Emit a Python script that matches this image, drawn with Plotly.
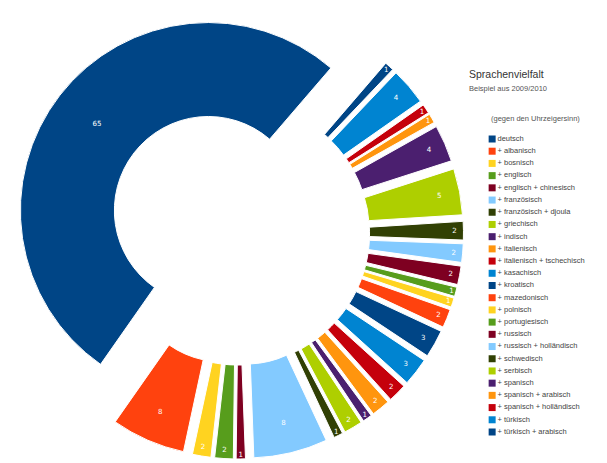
import plotly.graph_objects as go

# ---- data ----
labels = [
    "deutsch", "+ albanisch", "+ bosnisch", "+ englisch", "+ englisch + chinesisch",
    "+ französisch", "+ französisch + djoula", "+ griechisch", "+ indisch", "+ italienisch",
    "+ italienisch + tschechisch", "+ kasachisch", "+ kroatisch", "+ mazedonisch", "+ polnisch",
    "+ portugiesisch", "+ russisch", "+ russisch + holländisch", "+ schwedisch", "+ serbisch",
    "+ spanisch", "+ spanisch + arabisch", "+ spanisch + holländisch", "+ türkisch",
    "+ türkisch + arabisch",
]
values = [65, 8, 2, 2, 1, 8, 1, 2, 1, 2, 2, 3, 3, 2, 1, 1, 2, 2, 2, 5, 4, 1, 1, 4, 1]

palette = ["#004586", "#ff420e", "#ffd320", "#579d1c", "#7e0021", "#83caff",
           "#314004", "#aecf00", "#4b1f6f", "#ff950e", "#c5000b", "#0084d1"]
colors = [palette[i % len(palette)] for i in range(len(labels))]

W, H = 607, 463
OFF = 8  # page body margin offset

def px(x):
    return (x - OFF) / W

def py(y):
    return 1 - (y - OFF) / H

fig = go.Figure()

fig.add_trace(go.Pie(
    labels=labels,
    values=values,
    sort=False,
    direction="counterclockwise",
    rotation=215,
    hole=0.5,
    pull=[0.2] * len(values),
    marker=dict(colors=colors, line=dict(color="white", width=1)),
    textinfo="value",
    textposition="inside",
    insidetextorientation="horizontal",
    insidetextfont=dict(color="white", size=8, family="DejaVu Sans"),
    domain=dict(x=[0, 460 / W], y=[1 - 451 / H, 1]),
    showlegend=False,
    hoverinfo="label+value",
))

# legend drawn as a scatter on a hidden axis
idx = list(range(len(labels)))
fig.add_trace(go.Scatter(
    x=[0] * len(labels),
    y=idx,
    mode="markers+text",
    marker=dict(symbol="square", size=7, color=colors),
    text=labels,
    textposition="middle right",
    textfont=dict(size=7.5, color="#444444", family="Liberation Sans"),
    xaxis="x", yaxis="y",
    showlegend=False,
    hoverinfo="skip",
    cliponaxis=False,
))

fig.update_layout(
    width=W, height=H,
    margin=dict(l=0, r=0, t=0, b=0),
    paper_bgcolor="white",
    plot_bgcolor="white",
    showlegend=False,
    uniformtext=dict(minsize=7, mode="show"),
    xaxis=dict(domain=[px(486), 1.0], range=[-0.5, 10], visible=False, fixedrange=True),
    yaxis=dict(domain=[py(438.1), py(132.9)], range=[len(labels) - 0.5, -0.5],
               visible=False, fixedrange=True),
    annotations=[
        dict(text="Sprachenvielfalt", x=px(467), y=py(74), xref="paper", yref="paper",
             xanchor="left", yanchor="middle", showarrow=False,
             font=dict(size=10.5, color="#333333", family="Liberation Sans")),
        dict(text="Beispiel aus 2009/2010", x=px(467), y=py(88), xref="paper", yref="paper",
             xanchor="left", yanchor="middle", showarrow=False,
             font=dict(size=7.5, color="#555555", family="Liberation Sans")),
        dict(text="(gegen den Uhrzeigersinn)", x=px(489), y=py(119), xref="paper", yref="paper",
             xanchor="left", yanchor="middle", showarrow=False,
             font=dict(size=7.5, color="#555555", family="Liberation Sans")),
    ],
)

fig.write_html("out.html")
